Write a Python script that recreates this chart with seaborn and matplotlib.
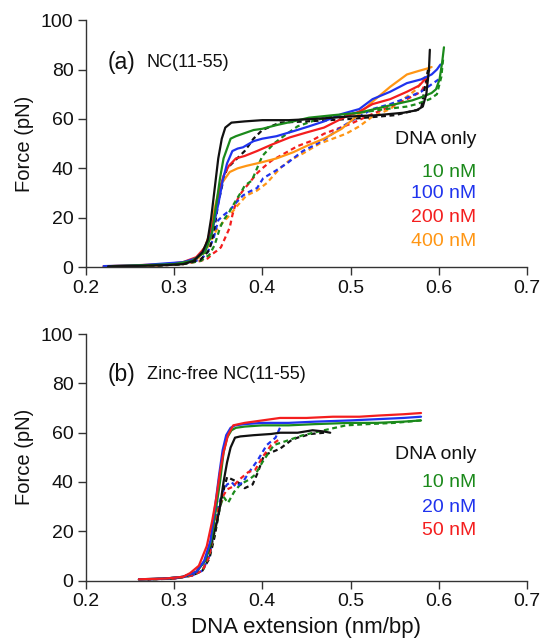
import seaborn as sns
import matplotlib.pyplot as plt

# ---- panel (a): NC(11-55) ----
black_a_ext = [0.225, 0.26, 0.29, 0.31, 0.322, 0.332, 0.338, 0.342, 0.346, 0.35, 0.354, 0.358, 0.365, 0.38, 0.40, 0.43, 0.46, 0.50, 0.53, 0.56, 0.575, 0.582, 0.586, 0.589, 0.59]
black_a_f = [0.3, 0.5, 0.8, 1.2, 2.5, 6, 11, 20, 32, 44, 52, 56.5, 58.5, 59, 59.5, 59.5, 60, 61, 61.5, 62.5, 63.5, 65, 70, 80, 88]
black_a_rel_ext = [0.588, 0.58, 0.55, 0.50, 0.45, 0.42, 0.40, 0.39, 0.38, 0.37, 0.36, 0.355, 0.35, 0.345, 0.34, 0.33, 0.31, 0.28, 0.25]
black_a_rel_f = [80, 64, 61.5, 60, 59, 58.5, 55.5, 52, 47, 43.5, 40, 34, 26, 14, 7, 3, 1.2, 0.6, 0.4]

green_a_ext = [0.23, 0.27, 0.30, 0.32, 0.335, 0.343, 0.348, 0.352, 0.356, 0.36, 0.364, 0.37, 0.378, 0.39, 0.40, 0.416, 0.435, 0.453, 0.48, 0.51, 0.545, 0.57, 0.582, 0.592, 0.597, 0.601, 0.604, 0.606]
green_a_f = [0.4, 0.8, 1.2, 2.5, 6, 14, 26, 36, 44, 48, 52, 53, 54, 55.5, 56, 57.5, 59, 60.5, 61.5, 62.5, 65.5, 67.5, 69, 70.5, 72, 76, 83, 89]
green_a_rel_ext = [0.605, 0.603, 0.598, 0.59, 0.575, 0.564, 0.54, 0.52, 0.50, 0.48, 0.46, 0.44, 0.424, 0.413, 0.40, 0.394, 0.388, 0.38, 0.377, 0.37, 0.362, 0.356, 0.352, 0.346, 0.34, 0.33, 0.31, 0.28, 0.25]
green_a_rel_f = [84, 77, 70, 68, 66, 65, 64, 63, 62, 61, 59.5, 57, 53, 50, 45, 40, 35, 33, 31, 27, 22, 19, 16, 9, 5, 2.5, 1.2, 0.6, 0.4]

blue_a_ext = [0.22, 0.26, 0.29, 0.31, 0.325, 0.335, 0.342, 0.348, 0.352, 0.355, 0.36, 0.366, 0.372, 0.378, 0.39, 0.40, 0.416, 0.435, 0.453, 0.47, 0.49, 0.51, 0.525, 0.545, 0.564, 0.58, 0.592, 0.598, 0.602]
blue_a_f = [0.4, 0.7, 1.5, 2.0, 3.5, 7, 13, 22, 29, 35, 42, 47, 48, 48.5, 51, 52, 53, 55, 57, 59, 62, 64, 68, 71, 74.5, 76, 78, 80, 82]
blue_a_rel_ext = [0.60, 0.58, 0.56, 0.545, 0.525, 0.50, 0.485, 0.472, 0.46, 0.446, 0.435, 0.428, 0.415, 0.401, 0.394, 0.385, 0.378, 0.37, 0.363, 0.356, 0.35, 0.345, 0.338, 0.33, 0.31, 0.28, 0.25]
blue_a_rel_f = [76, 71, 68, 66, 64, 59, 55.5, 52, 49.5, 47, 44, 42, 39, 36, 32, 30.5, 29, 26, 23, 21, 19, 12, 6, 3, 1.5, 0.8, 0.5]

red_a_ext = [0.22, 0.26, 0.29, 0.31, 0.325, 0.335, 0.342, 0.348, 0.352, 0.356, 0.362, 0.37, 0.38, 0.394, 0.41, 0.431, 0.45, 0.47, 0.495, 0.51, 0.525, 0.545, 0.564, 0.578, 0.587]
red_a_f = [0.3, 0.8, 1.2, 2.0, 4, 8, 15, 25, 32, 37, 41, 44, 45, 47, 49.5, 52.5, 54.5, 56.5, 61, 63, 66, 68, 71, 73.5, 77]
red_a_rel_ext = [0.588, 0.58, 0.564, 0.545, 0.525, 0.50, 0.485, 0.47, 0.455, 0.44, 0.425, 0.41, 0.40, 0.394, 0.385, 0.378, 0.374, 0.37, 0.366, 0.363, 0.358, 0.353, 0.348, 0.344, 0.338, 0.33, 0.31, 0.28, 0.25]
red_a_rel_f = [76, 71, 68, 65, 62, 58, 56, 54, 51, 49, 46, 43, 40, 38, 34, 31, 29, 26, 21, 16, 12, 8, 6.5, 5.5, 3.5, 2.5, 1.2, 0.6, 0.4]

orange_a_ext = [0.22, 0.25, 0.28, 0.30, 0.315, 0.328, 0.336, 0.342, 0.346, 0.352, 0.358, 0.363, 0.372, 0.382, 0.40, 0.416, 0.435, 0.453, 0.47, 0.49, 0.50, 0.51, 0.525, 0.545, 0.564, 0.578, 0.588, 0.592]
orange_a_f = [0.4, 0.5, 0.8, 1.2, 2, 4, 9, 16, 24, 33, 36, 38.5, 40, 41, 42.5, 44, 46.5, 49.5, 52, 56, 59, 62, 67, 73, 78, 79.5, 80.5, 81]
orange_a_rel_ext = [0.59, 0.575, 0.56, 0.545, 0.525, 0.51, 0.495, 0.48, 0.465, 0.446, 0.43, 0.42, 0.405, 0.394, 0.382, 0.372, 0.363, 0.355, 0.348, 0.342, 0.335, 0.325, 0.31, 0.28, 0.25]
orange_a_rel_f = [80, 72, 68, 64, 61, 57, 54, 52, 50, 46, 43, 40, 34, 31, 29, 25, 21, 18, 15, 11, 6, 3, 1.5, 0.7, 0.4]

labels_a = ["DNA only", "10 nM", "100 nM", "200 nM", "400 nM"]

# ---- panel (b): Zinc-free NC(11-55) ----
black_b_ext = [0.26, 0.29, 0.31, 0.325, 0.335, 0.342, 0.348, 0.352, 0.356, 0.36, 0.364, 0.369, 0.375, 0.39, 0.41, 0.42, 0.44, 0.457, 0.47, 0.477]
black_b_f = [0.4, 0.8, 1.5, 3.5, 8, 15, 23, 30, 40, 48, 54, 58, 58.5, 59, 59.5, 60, 60, 61, 60.5, 60]
black_b_rel_ext = [0.47, 0.455, 0.44, 0.433, 0.42, 0.41, 0.402, 0.395, 0.389, 0.38, 0.372, 0.366, 0.36, 0.357, 0.352, 0.346, 0.34, 0.332, 0.32, 0.30, 0.27]
black_b_rel_f = [60, 59.5, 58, 57, 53.5, 52, 51, 44, 39, 37.5, 40, 41, 42, 38, 30, 18, 9, 4, 2, 0.8, 0.4]

green_b_ext = [0.26, 0.29, 0.31, 0.325, 0.335, 0.342, 0.347, 0.352, 0.356, 0.36, 0.365, 0.37, 0.38, 0.40, 0.43, 0.46, 0.50, 0.53, 0.56, 0.58]
green_b_f = [0.5, 0.8, 1.5, 3.5, 8, 16, 28, 40, 52, 58, 61, 62, 62.5, 63, 63, 63.5, 64, 64, 64.5, 65]
green_b_rel_ext = [0.58, 0.55, 0.52, 0.495, 0.47, 0.446, 0.43, 0.413, 0.40, 0.392, 0.385, 0.375, 0.368, 0.361, 0.356, 0.352, 0.346, 0.34, 0.332, 0.32, 0.30, 0.27]
green_b_rel_f = [65, 64, 63.5, 63, 61, 59, 57, 55, 48, 43, 41, 39, 36, 31.5, 34, 30, 20, 10, 4, 2, 0.8, 0.5]

blue_b_ext = [0.26, 0.29, 0.31, 0.325, 0.334, 0.341, 0.346, 0.351, 0.355, 0.359, 0.364, 0.369, 0.38, 0.40, 0.43, 0.46, 0.50, 0.53, 0.56, 0.58]
blue_b_f = [0.5, 0.8, 1.5, 3.5, 8, 16, 29, 43, 53, 59, 62, 63, 63.5, 64, 64, 64.5, 65, 65.5, 66, 66.5]
blue_b_rel_ext = [0.42, 0.415, 0.405, 0.395, 0.385, 0.378, 0.37, 0.365, 0.36, 0.355, 0.35, 0.345, 0.34, 0.332, 0.32, 0.30, 0.27]
blue_b_rel_f = [62, 58, 55, 49, 44, 40, 38, 40, 39, 36, 30, 20, 10, 4, 2, 0.8, 0.5]

red_b_ext = [0.26, 0.29, 0.31, 0.318, 0.328, 0.337, 0.343, 0.348, 0.352, 0.356, 0.361, 0.367, 0.38, 0.40, 0.42, 0.45, 0.48, 0.51, 0.533, 0.56, 0.58]
red_b_f = [0.5, 0.8, 1.5, 3, 6, 14, 24, 34, 44, 52, 59, 63, 64, 65, 66, 66, 66.5, 66.5, 67, 67.5, 68]
red_b_rel_ext = [0.418, 0.41, 0.40, 0.392, 0.384, 0.374, 0.366, 0.36, 0.355, 0.35, 0.345, 0.34, 0.332, 0.32, 0.30, 0.27]
red_b_rel_f = [57, 55, 50, 45, 44, 41, 38, 37, 34, 29, 20, 10, 4, 2, 0.8, 0.5]

labels_b = ["DNA only", "10 nM", "20 nM", "50 nM"]

BLACK = "#111111"
GREEN = "#1b8a1b"
BLUE = "#1f33ee"
RED = "#f41e1e"
ORANGE = "#ff9614"

sns.set_style("ticks")
plt.rcParams["font.family"] = ["Liberation Sans", "DejaVu Sans"]

fig = plt.figure(figsize=(5.42, 6.39), dpi=100)
ax_a = fig.add_axes([0.1587, 0.582, 0.8133, 0.3865])
ax_b = fig.add_axes([0.1587, 0.0915, 0.8133, 0.3855])

dash = (0, (2.2, 1.6))

# panel a curves: relaxation (dashed) first, stretching (solid) on top
for ext, f, c in [(orange_a_rel_ext, orange_a_rel_f, ORANGE), (red_a_rel_ext, red_a_rel_f, RED),
                  (blue_a_rel_ext, blue_a_rel_f, BLUE), (green_a_rel_ext, green_a_rel_f, GREEN),
                  (black_a_rel_ext, black_a_rel_f, BLACK)]:
    sns.lineplot(x=ext, y=f, ax=ax_a, color=c, sort=False, estimator=None, lw=1.6, linestyle=dash)
for ext, f, c in [(orange_a_ext, orange_a_f, ORANGE), (red_a_ext, red_a_f, RED),
                  (blue_a_ext, blue_a_f, BLUE), (green_a_ext, green_a_f, GREEN),
                  (black_a_ext, black_a_f, BLACK)]:
    sns.lineplot(x=ext, y=f, ax=ax_a, color=c, sort=False, estimator=None, lw=1.6)

# panel b curves
for ext, f, c in [(black_b_rel_ext, black_b_rel_f, BLACK), (green_b_rel_ext, green_b_rel_f, GREEN),
                  (blue_b_rel_ext, blue_b_rel_f, BLUE), (red_b_rel_ext, red_b_rel_f, RED)]:
    sns.lineplot(x=ext, y=f, ax=ax_b, color=c, sort=False, estimator=None, lw=1.6, linestyle=dash)
for ext, f, c in [(black_b_ext, black_b_f, BLACK), (green_b_ext, green_b_f, GREEN),
                  (blue_b_ext, blue_b_f, BLUE), (red_b_ext, red_b_f, RED)]:
    sns.lineplot(x=ext, y=f, ax=ax_b, color=c, sort=False, estimator=None, lw=1.6)

for ax in (ax_a, ax_b):
    ax.set_xlim(0.2, 0.7)
    ax.set_ylim(0, 100)
    ax.set_xticks([0.2, 0.3, 0.4, 0.5, 0.6, 0.7])
    ax.set_yticks([0, 20, 40, 60, 80, 100])
    ax.set_xticklabels(["0.2", "0.3", "0.4", "0.5", "0.6", "0.7"])
    sns.despine(ax=ax)
    for s in ("left", "bottom"):
        ax.spines[s].set_color("#333333")
        ax.spines[s].set_linewidth(1.0)
    ax.tick_params(direction="out", length=5.5, width=1.0, color="#333333",
                   labelsize=14, pad=3.5, labelcolor="#111111")
    ax.set_ylabel("Force (pN)", fontsize=14.5, color="#111111")
    ax.yaxis.set_label_coords(-0.118, 0.5)
    ax.set_xlabel("")

ax_b.set_xlabel("DNA extension (nm/bp)", fontsize=16, color="#111111")
ax_b.xaxis.set_label_coords(0.5, -0.15)

# panel titles
ax_a.text(0.224, 83, "(a)", fontsize=16.5, ha="left", va="center", color="#111111")
ax_a.text(0.269, 83, "NC(11-55)", fontsize=13, ha="left", va="center", color="#111111")
ax_b.text(0.224, 83.5, "(b)", fontsize=16.5, ha="left", va="center", color="#111111")
ax_b.text(0.269, 83.5, "Zinc-free NC(11-55)", fontsize=13, ha="left", va="center", color="#111111")

# coloured labels
ypos_a = [51.5, 38.5, 30, 20, 10.2]
for lab, y, c in zip(labels_a, ypos_a, [BLACK, GREEN, BLUE, RED, ORANGE]):
    ax_a.text(0.643, y, lab, fontsize=14, ha="right", va="center", color=c)
ypos_b = [51, 39.6, 29.8, 20.5]
for lab, y, c in zip(labels_b, ypos_b, [BLACK, GREEN, BLUE, RED]):
    ax_b.text(0.643, y, lab, fontsize=14, ha="right", va="center", color=c)

fig.savefig("out.png", dpi=100)
